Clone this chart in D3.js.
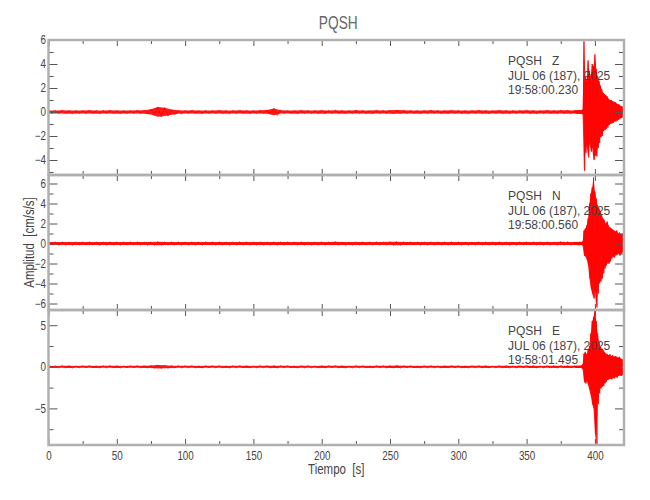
<!DOCTYPE html>
<html><head><meta charset="utf-8">
<script src="https://cdn.jsdelivr.net/npm/d3@7"></script>
<style>
body{margin:0;background:#fff}
text{font-family:"Liberation Sans",Arial,sans-serif;white-space:pre}
</style>
</head><body><svg id="c" width="650" height="500"></svg>
<script>
// ---- data ----
const station = "PQSH";
const dateLabel = "JUL 06 (187), 2025";
const components = ["Z", "N", "E"];
const startTimes = ["19:58:00.230", "19:58:00.560", "19:58:01.495"];

// time bins (s): coarse in the quiet part, 1 s in the strong-motion part
const times = [0,5,10,15,20,25,30,35,40,45,50,55,60,65,70,75,80,85,90,95,
  100,105,110,115,120,125,130,135,140,145,150,155,160,165,170,175,180,185,190,195,
  200,205,210,215,220,225,230,235,240,245,250,255,260,265,270,275,280,285,290,295,
  300,305,310,315,320,325,330,335,340,345,350,355,360,365,370,375,380,385,
  386,387,388,389,390,391,392,393,394,395,396,397,398,399,400,401,402,403,404,405,
  406,407,408,409,410,411,412,413,414,415,416,417,418,419,420,421];

// Z component: per-bin max / min (cm/s/s)
const zMax = [0.13,0.12,0.14,0.13,0.12,0.13,0.14,0.12,0.13,0.14,0.13,0.12,0.13,0.14,0.15,
  0.22,0.42,0.36,0.2,0.15,
  0.13,0.14,0.12,0.13,0.13,0.14,0.12,0.13,0.14,0.13,0.12,0.14,
  0.16,0.3,0.14,
  0.13,0.12,0.14,0.13,0.12,0.14,0.13,0.15,0.13,0.12,0.14,0.13,0.12,0.14,0.13,0.15,0.16,0.14,0.13,0.12,0.13,0.14,
  0.12,0.13,0.14,0.13,0.12,0.13,0.14,0.13,0.12,0.14,0.13,0.12,0.13,0.14,0.13,0.12,0.14,0.13,0.15,0.14,0.13,
  0.14,0.15,0.13,0.16,0.15,0.2,5.9,3.0,2.6,4.3,3.4,3.0,4.0,3.8,4.8,3.6,3.0,2.6,2.2,1.9,
  1.6,1.5,1.4,1.3,1.1,1.0,1.0,0.9,0.85,0.8,0.7,0.65,0.6,0.5,0.45,0.35];
const zMin = [-0.12,-0.13,-0.13,-0.14,-0.12,-0.13,-0.12,-0.14,-0.13,-0.12,-0.14,-0.13,-0.12,-0.13,-0.14,
  -0.2,-0.4,-0.34,-0.22,-0.14,
  -0.12,-0.13,-0.14,-0.12,-0.13,-0.12,-0.14,-0.13,-0.12,-0.14,-0.13,-0.12,
  -0.15,-0.28,-0.13,
  -0.12,-0.14,-0.13,-0.12,-0.13,-0.14,-0.12,-0.13,-0.14,-0.13,-0.12,-0.13,-0.14,-0.12,-0.13,-0.14,-0.15,-0.13,-0.12,-0.14,-0.13,-0.12,
  -0.13,-0.14,-0.12,-0.13,-0.14,-0.12,-0.13,-0.14,-0.13,-0.12,-0.14,-0.13,-0.12,-0.13,-0.14,-0.13,-0.12,-0.14,-0.13,-0.14,-0.12,
  -0.13,-0.14,-0.15,-0.14,-0.16,-0.2,-4.9,-3.4,-2.8,-3.8,-2.6,-3.3,-3.0,-4.0,-3.6,-3.7,-3.0,-2.6,-2.1,-2.0,
  -1.6,-1.5,-1.4,-1.3,-1.1,-1.0,-0.95,-0.9,-0.8,-0.8,-0.7,-0.65,-0.55,-0.5,-0.45,-0.35];

// N component
const nMax = [0.15,0.14,0.16,0.15,0.14,0.15,0.16,0.14,0.15,0.16,0.15,0.14,0.15,0.16,0.15,
  0.16,0.17,0.16,0.15,0.15,
  0.15,0.16,0.14,0.15,0.15,0.16,0.14,0.15,0.16,0.15,0.14,0.16,
  0.15,0.16,0.15,
  0.15,0.14,0.16,0.15,0.14,0.16,0.15,0.17,0.15,0.14,0.16,0.15,0.14,0.16,0.15,0.17,0.18,0.16,0.15,0.14,0.15,0.16,
  0.14,0.15,0.16,0.15,0.14,0.15,0.16,0.15,0.14,0.16,0.15,0.14,0.15,0.16,0.15,0.14,0.16,0.15,0.17,0.16,0.15,
  0.15,0.16,0.15,0.17,0.16,0.2,1.3,1.5,1.8,2.5,4.0,5.0,5.6,6.6,5.2,4.5,3.8,3.5,3.2,2.8,
  2.5,2.3,2.0,2.2,1.8,1.6,1.5,1.4,1.3,1.2,1.3,1.0,1.1,0.9,1.0,0.8];
const nMin = [-0.14,-0.15,-0.15,-0.16,-0.14,-0.15,-0.14,-0.16,-0.15,-0.14,-0.16,-0.15,-0.14,-0.15,-0.16,
  -0.15,-0.17,-0.16,-0.15,-0.15,
  -0.14,-0.15,-0.16,-0.14,-0.15,-0.14,-0.16,-0.15,-0.14,-0.16,-0.15,-0.14,
  -0.15,-0.16,-0.15,
  -0.14,-0.16,-0.15,-0.14,-0.15,-0.16,-0.14,-0.15,-0.16,-0.15,-0.14,-0.15,-0.16,-0.14,-0.15,-0.16,-0.17,-0.15,-0.14,-0.16,-0.15,-0.14,
  -0.15,-0.16,-0.14,-0.15,-0.16,-0.14,-0.15,-0.16,-0.15,-0.14,-0.16,-0.15,-0.14,-0.15,-0.16,-0.15,-0.14,-0.16,-0.15,-0.16,-0.14,
  -0.15,-0.16,-0.17,-0.15,-0.16,-0.2,-1.2,-1.3,-1.6,-2.2,-3.5,-4.5,-5.0,-5.5,-4.8,-6.4,-5.0,-4.0,-3.8,-3.5,
  -3.0,-2.5,-2.2,-2.0,-2.0,-1.8,-1.5,-1.3,-1.4,-1.2,-1.1,-1.0,-1.2,-1.0,-0.9,-0.8];

// E component
const eMax = [0.12,0.11,0.13,0.12,0.11,0.12,0.13,0.11,0.12,0.13,0.12,0.11,0.12,0.13,0.14,
  0.15,0.22,0.18,0.14,0.13,
  0.12,0.13,0.11,0.12,0.12,0.13,0.11,0.12,0.13,0.12,0.11,0.13,
  0.13,0.14,0.13,
  0.12,0.11,0.13,0.12,0.11,0.13,0.12,0.14,0.12,0.11,0.13,0.12,0.11,0.13,0.12,0.14,0.15,0.13,0.12,0.11,0.12,0.13,
  0.11,0.12,0.13,0.12,0.11,0.12,0.13,0.12,0.11,0.13,0.12,0.11,0.12,0.13,0.12,0.11,0.13,0.12,0.14,0.13,0.12,
  0.12,0.13,0.12,0.14,0.15,0.3,1.6,1.8,1.5,2.0,2.5,4.0,5.5,6.0,6.8,5.5,4.0,3.0,2.4,2.2,
  2.0,1.8,1.6,1.5,1.4,1.5,1.3,1.4,1.2,1.3,1.2,1.1,1.2,1.0,0.9,0.8];
const eMin = [-0.11,-0.12,-0.12,-0.13,-0.11,-0.12,-0.11,-0.13,-0.12,-0.11,-0.13,-0.12,-0.11,-0.12,-0.13,
  -0.14,-0.2,-0.17,-0.13,-0.12,
  -0.11,-0.12,-0.13,-0.11,-0.12,-0.11,-0.13,-0.12,-0.11,-0.13,-0.12,-0.11,
  -0.12,-0.13,-0.12,
  -0.11,-0.13,-0.12,-0.11,-0.12,-0.13,-0.11,-0.12,-0.13,-0.12,-0.11,-0.12,-0.13,-0.11,-0.12,-0.13,-0.14,-0.12,-0.11,-0.13,-0.12,-0.11,
  -0.12,-0.13,-0.11,-0.12,-0.13,-0.11,-0.12,-0.13,-0.12,-0.11,-0.13,-0.12,-0.11,-0.12,-0.13,-0.12,-0.11,-0.13,-0.12,-0.13,-0.11,
  -0.12,-0.13,-0.14,-0.12,-0.15,-0.3,-1.8,-2.0,-1.7,-2.2,-2.8,-3.5,-4.5,-5.0,-8.0,-9.3,-4.5,-3.2,-2.6,-2.4,
  -2.3,-2.0,-1.8,-1.6,-1.5,-1.4,-1.5,-1.3,-1.4,-1.2,-1.3,-1.1,-1.0,-1.1,-1.0,-0.8];

// axis ranges and ticks
const xDomain = [0, 421.3];
const xMajorTicks = [0,50,100,150,200,250,300,350,400];
const xMinorTicks = [25,75,125,175,225,275,325,375];
const yDomains = [[-5.25, 6.0], [-6.65, 6.85], [-9.4, 6.83]];
const yMajorTicks = [[-4,-2,0,2,4,6], [-6,-4,-2,0,2,4,6], [-5,0,5]];
const yMinorTicks = [[-5,-3,-1,1,3,5], [-5,-3,-1,1,3,5], [-7.5,-2.5,2.5]];
const traceMax = [zMax, nMax, eMax];
const traceMin = [zMin, nMin, eMin];

// ---- drawing ----
const svg = d3.select("#c");
const L = 48.5, R = 624, T = 40, PH = 135;
const frameCol = "#b0b0b0", tickCol = "#555", textCol = "#444";
const x = d3.scaleLinear().domain(xDomain).range([L, R]);

svg.append("text").attr("transform", `translate(${(L + R) / 2 + 2},29) scale(0.72,1)`)
  .attr("text-anchor", "middle").attr("font-size", 19).attr("fill", "#666").text(station);

components.forEach((comp, i) => {
  const top = T + i * PH, bot = top + PH;
  const y = d3.scaleLinear().domain(yDomains[i]).range([bot, top]);
  const g = svg.append("g");

  g.append("clipPath").attr("id", "clip" + i).append("rect")
    .attr("x", L).attr("y", top).attr("width", R - L).attr("height", PH);

  const n = Math.min(times.length, traceMax[i].length, traceMin[i].length);
  const pts = [], bins = [];
  for (let k = 0; k < n; k++) {
    const t = times[k], t2 = k < n - 1 ? times[k + 1] : t + 1;
    pts.push([t, traceMax[i][k]]);
    pts.push([(t + t2) / 2, traceMin[i][k]]);
    bins.push({t, hi: traceMax[i][k], lo: traceMin[i][k]});
  }
  const tg = g.append("g").attr("clip-path", `url(#clip${i})`);
  tg.append("path").datum(bins)
    .attr("d", d3.area().x(d => x(d.t)).y0(d => y(d.lo)).y1(d => y(d.hi)))
    .attr("fill", "#ff0000").attr("fill-opacity", 0.9);
  tg.append("path").datum(pts)
    .attr("d", d3.line().x(d => x(d[0])).y(d => y(d[1])))
    .attr("fill", "none").attr("stroke", "#ff0000").attr("stroke-width", 0.8);

  // axes
  const styleAxis = sel => {
    sel.select(".domain").remove();
    sel.selectAll(".tick line").attr("stroke", tickCol);
    sel.selectAll(".tick text").attr("fill", textCol).attr("font-size", 12)
      .attr("font-family", '"Liberation Sans",Arial,sans-serif')
      .attr("transform", "scale(0.82,1)");
  };
  g.append("g").attr("transform", `translate(${L},0)`)
    .call(d3.axisLeft(y).tickValues(yMajorTicks[i]).tickSize(-9).tickPadding(3)
      .tickFormat(d3.format("d"))).call(styleAxis);
  g.append("g").attr("transform", `translate(${L},0)`)
    .call(d3.axisLeft(y).tickValues(yMinorTicks[i]).tickSize(-5).tickFormat("")).call(styleAxis);
  g.append("g").attr("transform", `translate(${R},0)`)
    .call(d3.axisRight(y).tickValues(yMajorTicks[i]).tickSize(-9).tickFormat("")).call(styleAxis);
  g.append("g").attr("transform", `translate(${R},0)`)
    .call(d3.axisRight(y).tickValues(yMinorTicks[i]).tickSize(-5).tickFormat("")).call(styleAxis);
  g.append("g").attr("transform", `translate(0,${top})`)
    .call(d3.axisTop(x).tickValues(xMajorTicks).tickSize(-6).tickFormat("")).call(styleAxis);
  g.append("g").attr("transform", `translate(0,${top})`)
    .call(d3.axisTop(x).tickValues(xMinorTicks).tickSize(-4).tickFormat("")).call(styleAxis);
  g.append("g").attr("transform", `translate(0,${bot})`)
    .call(d3.axisBottom(x).tickValues(xMajorTicks).tickSize(-6).tickPadding(6)
      .tickFormat(i === components.length - 1 ? d3.format("d") : "")).call(styleAxis);
  g.append("g").attr("transform", `translate(0,${bot})`)
    .call(d3.axisBottom(x).tickValues(xMinorTicks).tickSize(-4).tickFormat("")).call(styleAxis);

  // frame
  g.append("rect").attr("x", L).attr("y", top).attr("width", R - L).attr("height", PH)
    .attr("fill", "none").attr("stroke", frameCol).attr("stroke-width", 2.5);

  // station labels
  const lab = g.append("g").attr("fill", textCol).attr("font-size", 12);
  lab.append("text").attr("x", 508).attr("y", top + 25).text(`${station}   ${comp}`);
  lab.append("text").attr("x", 508).attr("y", top + 39.5).text(dateLabel);
  lab.append("text").attr("x", 508).attr("y", top + 54).text(startTimes[i]);
});

svg.append("text").attr("transform", `translate(${(L + R) / 2},474) scale(0.82,1)`)
  .attr("text-anchor", "middle").attr("font-size", 14).attr("fill", textCol).text("Tiempo  [s]");
svg.append("text").attr("transform", `translate(34,${T + 1.5 * PH}) rotate(-90) scale(0.82,1)`)
  .attr("text-anchor", "middle").attr("font-size", 14).attr("fill", textCol)
  .text("Amplitud  [cm/s/s]");
</script>
</body></html>
